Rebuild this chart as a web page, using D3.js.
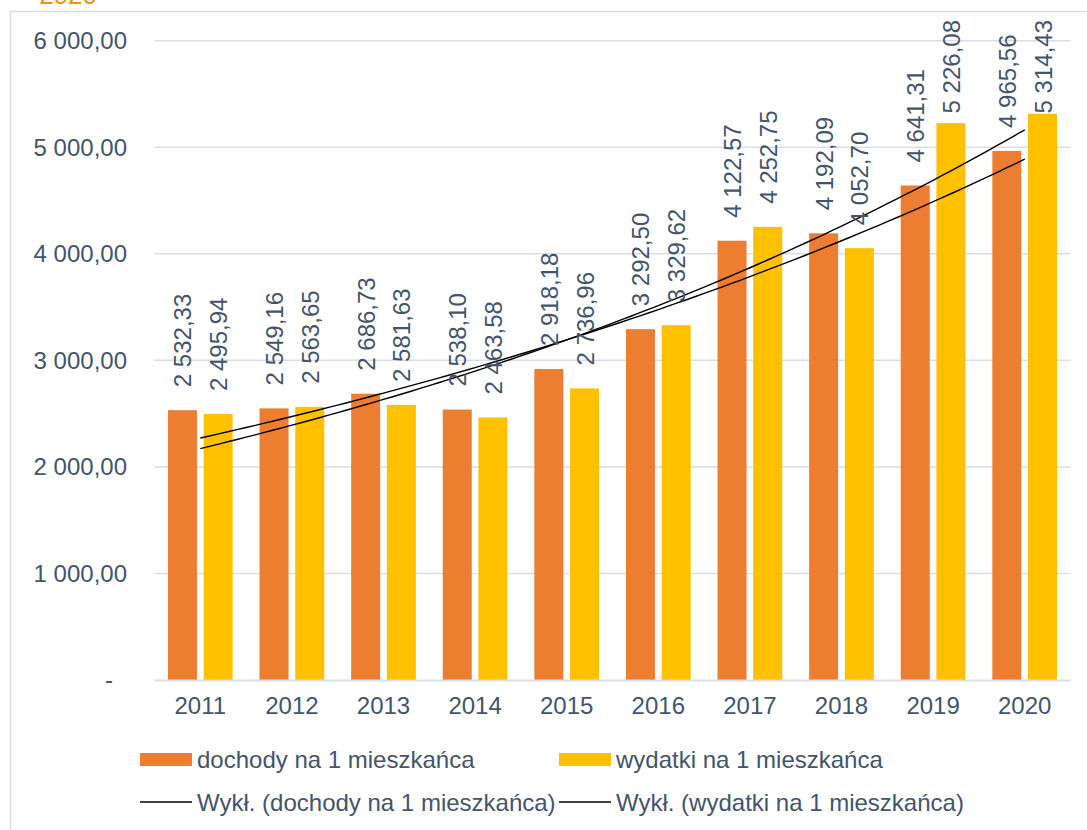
<!DOCTYPE html>
<html>
<head>
<meta charset="utf-8">
<script src="https://cdn.jsdelivr.net/npm/d3@7"></script>
<style>
  body { margin: 0; background: #fff; }
  text { font-family: "Liberation Sans", Arial, sans-serif; }
</style>
</head>
<body>
<script>
// dane
const lata = ['2011', '2012', '2013', '2014', '2015', '2016', '2017', '2018', '2019', '2020'];
const dochody = [2532.33, 2549.16, 2686.73, 2538.10, 2918.18, 3292.50, 4122.57, 4192.09, 4641.31, 4965.56];
const wydatki = [2495.94, 2563.65, 2581.63, 2463.58, 2736.96, 3329.62, 4252.75, 4052.70, 5226.08, 5314.43];
const osY = [0, 1000, 2000, 3000, 4000, 5000, 6000];
const legenda = ['dochody na 1 mieszkańca', 'wydatki na 1 mieszkańca',
  'Wykł. (dochody na 1 mieszkańca)', 'Wykł. (wydatki na 1 mieszkańca)'];

const W = 1087, H = 830;
const txt = '#44546A', siatka = '#D9DEE5';
const kolory = ['#ED7D31', '#FFC000'];

const svg = d3.select('body').append('svg')
  .attr('width', W)
  .attr('height', H);

// ramka wykresu (ucięta przez kadr)
svg.append('rect')
  .attr('x', 10.5).attr('y', 11.5)
  .attr('width', 1200).attr('height', 900)
  .attr('fill', 'none')
  .attr('stroke', siatka)
  .attr('stroke-width', 1.5);

// ucięty tytuł
svg.append('text')
  .attr('x', 97).attr('y', 4)
  .attr('text-anchor', 'end')
  .attr('font-size', 26)
  .attr('fill', '#F39200')
  .attr('xml:space', 'preserve')
  .text('2011 –   2020');

const x = d3.scaleBand().domain(lata).range([154.5, 1070.5]);
const y = d3.scaleLinear().domain([0, 6000]).range([680, 40.7]);
const fmt = v => v === 0 ? '-' : d3.format(',.2f')(v).replace(/,/g, ' ').replace('.', ',');

// siatka
svg.selectAll('.grid').data(osY.filter(d => d > 0)).enter()
  .append('line')
  .attr('x1', 154.5).attr('x2', 1070.5)
  .attr('y1', d => y(d)).attr('y2', d => y(d))
  .attr('stroke', siatka)
  .attr('stroke-width', 1.5);

// etykiety osi Y
svg.selectAll('.ylab').data(osY).enter()
  .append('text')
  .attr('x', d => d === 0 ? 113 : 127)
  .attr('y', d => y(d))
  .attr('dy', '0.35em')
  .attr('text-anchor', 'end')
  .attr('font-size', 24)
  .attr('fill', txt)
  .text(fmt);

// słupki
const szer = 29, odst = 6.7;
const serie = [dochody, wydatki];
serie.forEach(function(s, i) {
  const off = i === 0 ? -odst / 2 - szer : odst / 2;
  svg.selectAll('.bar' + i).data(s).enter()
    .append('rect')
    .attr('x', (d, j) => x(lata[j]) + x.bandwidth() / 2 + off)
    .attr('y', d => y(d))
    .attr('width', szer)
    .attr('height', d => y(0) - y(d))
    .attr('fill', kolory[i]);
});

// oś X
svg.append('line')
  .attr('x1', 154.5).attr('x2', 1070.5)
  .attr('y1', 680.5).attr('y2', 680.5)
  .attr('stroke', siatka)
  .attr('stroke-width', 2);

svg.selectAll('.xlab').data(lata).enter()
  .append('text')
  .attr('x', d => x(d) + x.bandwidth() / 2)
  .attr('y', 714)
  .attr('text-anchor', 'middle')
  .attr('font-size', 24)
  .attr('fill', txt)
  .text(d => d);

// linie trendu wykładniczego (regresja ln(y) ~ x)
function trend(s) {
  const n = s.length;
  const xs = s.map((d, i) => i + 1), ls = s.map(d => Math.log(d));
  const mx = d3.mean(xs), ml = d3.mean(ls);
  const b = d3.sum(xs, (v, i) => (v - mx) * (ls[i] - ml)) / d3.sum(xs, v => (v - mx) * (v - mx));
  const a = ml - b * mx;
  return d3.range(0, n - 1, 0.1).concat([n - 1]).map(t => [t, Math.exp(a + b * (t + 1))]);
}
const linia = d3.line()
  .x(d => x(lata[0]) + x.bandwidth() / 2 + d[0] * x.step())
  .y(d => y(d[1]));
serie.forEach(function(s) {
  svg.append('path')
    .attr('d', linia(trend(s)))
    .attr('fill', 'none')
    .attr('stroke', '#000')
    .attr('stroke-width', 1.4);
});

// etykiety danych (obrócone)
serie.forEach(function(s, i) {
  const off = i === 0 ? -odst / 2 - szer / 2 : odst / 2 + szer / 2;
  s.forEach(function(d, j) {
    const cx = x(lata[j]) + x.bandwidth() / 2 + off + 9;
    const t = svg.append('text')
      .attr('font-size', 24)
      .attr('fill', txt)
      .text(fmt(d));
    const len = t.node().getComputedTextLength();
    const sy = Math.max(y(d) - 23, 20 + len);
    t.attr('transform', 'translate(' + cx + ',' + sy + ') rotate(-90)');
  });
});

// legenda
const leg = [
  { x: 140, y: 759, typ: 'rect', kol: kolory[0], t: legenda[0] },
  { x: 559, y: 759, typ: 'rect', kol: kolory[1], t: legenda[1] },
  { x: 140, y: 802, typ: 'line', kol: '#000', t: legenda[2] },
  { x: 559, y: 802, typ: 'line', kol: '#000', t: legenda[3] }
];
leg.forEach(function(l) {
  if (l.typ === 'rect') {
    svg.append('rect')
      .attr('x', l.x).attr('y', l.y - 6)
      .attr('width', 52).attr('height', 13)
      .attr('fill', l.kol);
  } else {
    svg.append('line')
      .attr('x1', l.x).attr('x2', l.x + 52)
      .attr('y1', l.y).attr('y2', l.y)
      .attr('stroke', l.kol)
      .attr('stroke-width', 1.4);
  }
  svg.append('text')
    .attr('x', l.x + 57).attr('y', l.y + 8.5)
    .attr('font-size', 24)
    .attr('fill', txt)
    .text(l.t);
});
</script>
</body>
</html>
